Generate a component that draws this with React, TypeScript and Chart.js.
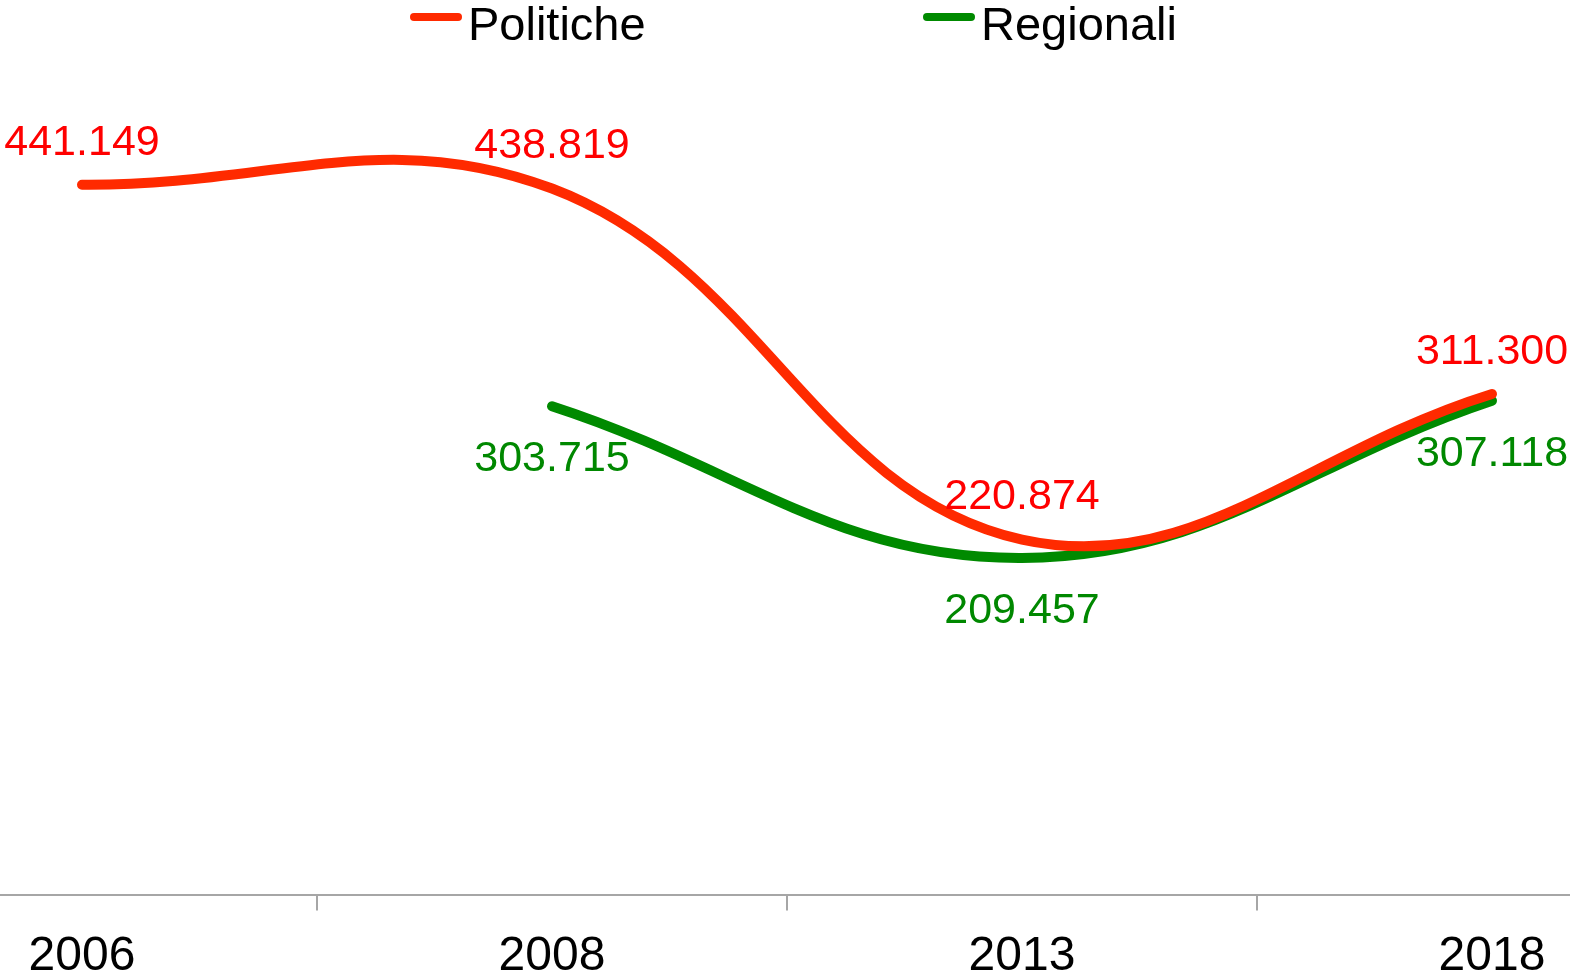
import React, { useEffect, useRef } from "react";
import { Chart, registerables } from "chart.js";

Chart.register(...registerables);

const categories = ["2006", "2008", "2013", "2018"];
const politiche: (number | null)[] = [441.149, 438.819, 220.874, 311.3];
const regionali: (number | null)[] = [null, 303.715, 209.457, 307.118];
const politicheLabels = ["441.149", "438.819", "220.874", "311.300"];
const regionaliLabels = ["", "303.715", "209.457", "307.118"];
const seriesNames = ["Politiche", "Regionali"];

const FONT = "'Liberation Sans', Arial, Helvetica, sans-serif";
const RED_LINE = "#ff2a00";
const RED_TEXT = "#ff0000";
const GREEN_LINE = "#008a00";
const GREEN_TEXT = "#008800";
const SHIFT = 153; // canvas left offset relative to viewport

const labelPlugin = {
  id: "valueLabels",
  afterDatasetsDraw(chart: any) {
    const ctx = chart.ctx;
    ctx.save();
    ctx.font = `43px ${FONT}`;
    ctx.textAlign = "center";
    ctx.textBaseline = "middle";
    const sets = [
      { idx: 0, labels: politicheLabels, color: RED_TEXT, dy: -42 },
      { idx: 1, labels: regionaliLabels, color: GREEN_TEXT, dy: 53 },
    ];
    sets.forEach((s) => {
      const meta = chart.getDatasetMeta(s.idx);
      meta.data.forEach((pt: any, i: number) => {
        const txt = s.labels[i];
        if (!txt || pt.skip) return;
        ctx.fillStyle = s.color;
        ctx.fillText(txt, pt.x, pt.y + s.dy);
      });
    });
    ctx.restore();
  },
};

const legendPlugin = {
  id: "customLegend",
  afterDraw(chart: any) {
    const ctx = chart.ctx;
    ctx.save();
    const items = [
      { name: seriesNames[0], color: RED_LINE, x0: 414, x1: 458, tx: 468 },
      { name: seriesNames[1], color: GREEN_LINE, x0: 927, x1: 971, tx: 981 },
    ];
    items.forEach((it) => {
      ctx.strokeStyle = it.color;
      ctx.lineWidth = 8;
      ctx.lineCap = "round";
      ctx.beginPath();
      ctx.moveTo(it.x0 + SHIFT, 17);
      ctx.lineTo(it.x1 + SHIFT, 17);
      ctx.stroke();
      ctx.fillStyle = "#000000";
      ctx.font = `47px ${FONT}`;
      ctx.textAlign = "left";
      ctx.textBaseline = "alphabetic";
      ctx.fillText(it.name, it.tx + SHIFT, 40);
    });
    ctx.restore();
  },
};

export default function App() {
  const ref = useRef<HTMLCanvasElement | null>(null);

  useEffect(() => {
    if (!ref.current) return;
    const chart = new Chart(ref.current, {
      type: "line",
      data: {
        labels: categories,
        datasets: [
          {
            label: seriesNames[0],
            data: politiche,
            borderColor: RED_LINE,
            backgroundColor: RED_LINE,
            borderWidth: 10,
            borderCapStyle: "round",
            borderJoinStyle: "round",
            tension: 0.4,
            pointRadius: 0,
            fill: false,
          },
          {
            label: seriesNames[1],
            data: regionali,
            borderColor: GREEN_LINE,
            backgroundColor: GREEN_LINE,
            borderWidth: 10,
            borderCapStyle: "round",
            borderJoinStyle: "round",
            tension: 0.4,
            pointRadius: 0,
            spanGaps: true,
            fill: false,
          },
        ],
      },
      options: {
        responsive: false,
        animation: false,
        devicePixelRatio: 1,
        layout: { padding: { top: 90, bottom: 0, left: 0, right: 0 } },
        plugins: {
          legend: { display: false },
          tooltip: { enabled: false },
        },
        scales: {
          x: {
            type: "category",
            offset: true,
            grid: {
              display: true,
              offset: true,
              drawOnChartArea: false,
              drawTicks: true,
              tickLength: 15,
              color: "#a6a6a6",
              lineWidth: 2,
            },
            border: { display: true, color: "#a6a6a6", width: 2 },
            ticks: {
              font: { family: FONT, size: 48 },
              color: "#000000",
              padding: 18,
              maxRotation: 0,
              autoSkip: false,
            },
          },
          y: {
            display: false,
            min: 0,
            max: 500,
          },
        },
      },
      plugins: [labelPlugin, legendPlugin],
    });
    return () => chart.destroy();
  }, []);

  return (
    <div
      style={{
        position: "fixed",
        left: 0,
        top: 0,
        width: 1570,
        height: 976,
        overflow: "hidden",
        background: "#ffffff",
      }}
    >
      <div style={{ position: "absolute", left: -SHIFT, top: 0 }}>
        <canvas ref={ref} width={1880} height={1004} style={{ display: "block" }} />
      </div>
    </div>
  );
}
